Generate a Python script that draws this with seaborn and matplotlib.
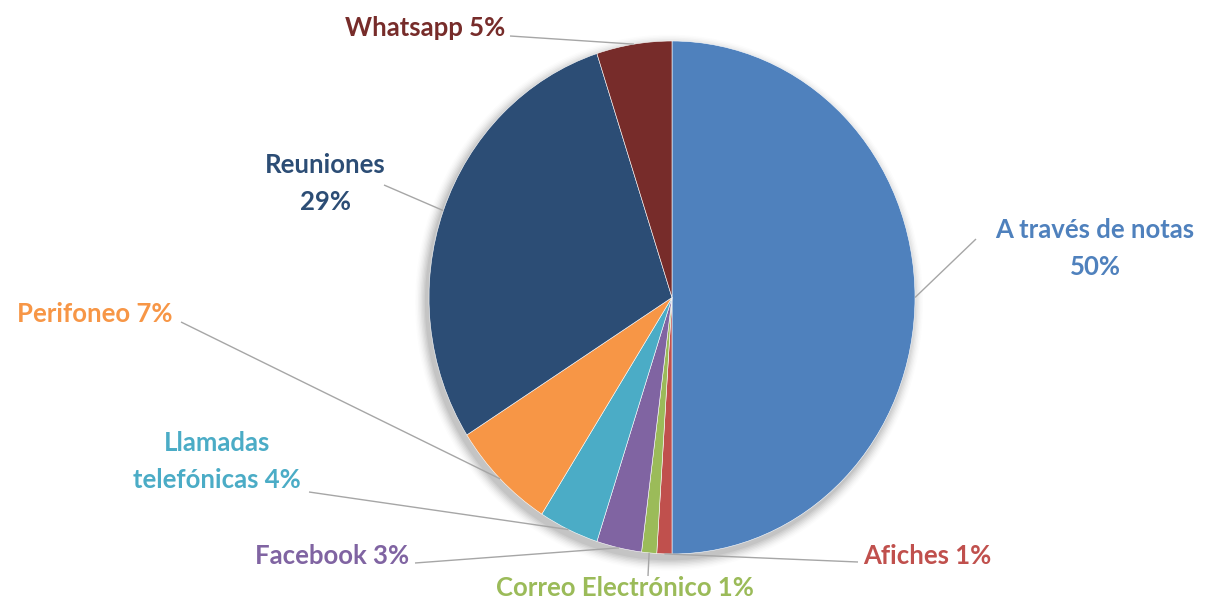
import numpy as np
import matplotlib
matplotlib.use("Agg")
import matplotlib.pyplot as plt
from matplotlib.patches import Ellipse
import seaborn as sns

# Medios de comunicación utilizados (porcentaje)
categories = ["A través de notas", "Afiches", "Correo Electrónico", "Facebook",
              "Llamadas telefónicas", "Perifoneo", "Reuniones", "Whatsapp"]
values = [50, 1, 1, 3, 4, 7, 29, 5]
label_texts = ["A través de notas\n50%", "Afiches 1%", "Correo Electrónico 1%",
               "Facebook 3%", "Llamadas\ntelefónicas 4%", "Perifoneo 7%",
               "Reuniones\n29%", "Whatsapp 5%"]
colors = ["#4F81BD", "#C0504D", "#9BBB59", "#8064A2",
          "#4BACC6", "#F79646", "#2C4D75", "#772C2A"]

sns.set_theme(style="white")
plt.rcParams["font.family"] = ["Lato", "DejaVu Sans"]

W, H = 1207, 600
CX, CY = 672.0, 297.5      # pie centre (pixels from top-left)
RX, RY = 243.0, 256.5      # pie radii (pixels)

fig = plt.figure(figsize=(W / 100, H / 100), dpi=100)
ax = fig.add_axes([0, 0, 1, 1])


def px(x, y):
    """Pixel position (top-left origin) -> data coordinates."""
    return (x - CX) / RX, (CY - y) / RY


# soft shadow around the pie
for k, a in zip(np.linspace(1.045, 1.005, 8), np.linspace(0.012, 0.05, 8)):
    ax.add_patch(Ellipse((-0.012, -0.02), 2 * k, 2 * k, color="black",
                         alpha=a, lw=0, zorder=0))

wedges, _ = ax.pie(values, colors=colors, startangle=90, counterclock=False,
                   radius=1.0, wedgeprops=dict(linewidth=0.4, edgecolor="#ffffff"),
                   frame=True)
ax.set_xlim(-CX / RX, (W - CX) / RX)
ax.set_ylim(-(H - CY) / RY, CY / RY)
ax.set_aspect("auto")
ax.axis("off")

# label placement: text centre and leader start (pixels)
label_pos = [(1095, 249), (927, 556), (625, 588), (332, 556),
             (217, 462), (95, 314), (325, 184), (425, 28)]
leader_start = [(976, 239), (858, 562), (648, 576), (415, 563),
                (309, 492), (181, 322), (384, 185), (510, 36)]

for w, txt, col, (tx, ty), (sx, sy) in zip(wedges, label_texts, colors,
                                           label_pos, leader_start):
    mid = np.deg2rad((w.theta1 + w.theta2) / 2)
    ex, ey = np.cos(mid), np.sin(mid)
    x0, y0 = px(sx, sy)
    ax.plot([x0, ex], [y0, ey], color="#A6A6A6", lw=1.0, zorder=3,
            solid_capstyle="butt")
    ax.text(*px(tx, ty), txt, ha="center", va="center", color=col,
            fontsize=18.5, fontweight="bold", linespacing=1.65, zorder=4)

fig.savefig("out.png", dpi=100, facecolor="white")
